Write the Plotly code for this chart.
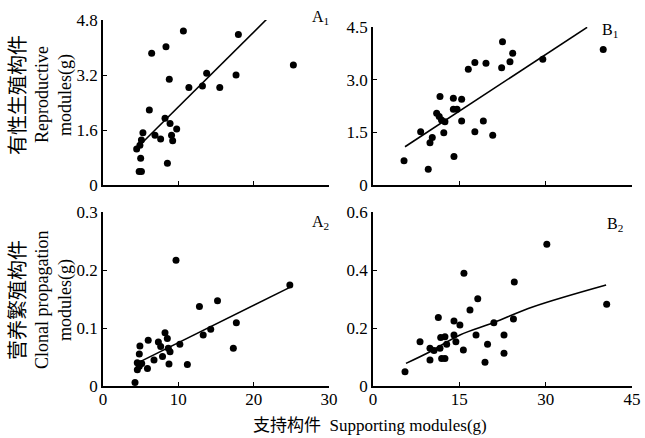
import plotly.graph_objects as go

# ---------------- data ----------------
A1_x = [4.47, 4.9, 5.1, 5.3, 5.0, 4.8, 5.1, 6.15, 6.46, 6.9, 7.65, 8.23, 8.36, 8.8, 8.9, 9.1, 9.25, 8.55, 9.78, 10.67, 11.4, 13.2, 13.76, 15.5, 17.66, 17.97, 25.27]
A1_y = [1.05, 1.16, 1.31, 1.52, 0.78, 0.39, 0.39, 2.18, 3.83, 1.45, 1.34, 1.94, 4.02, 3.08, 1.79, 1.45, 1.29, 0.63, 1.63, 4.48, 2.84, 2.88, 3.25, 2.84, 3.2, 4.38, 3.49]
A1_fit_x = [4.47, 22.08]
A1_fit_y = [1.07, 4.9]

B1_x = [5.39, 9.6, 8.28, 9.9, 10.3, 11.64, 11.06, 11.5, 11.9, 12.5, 12.3, 13.96, 15.4, 13.96, 14.6, 15.4, 14.07, 16.56, 17.7, 19.63, 17.7, 19.17, 20.8, 22.35, 22.5, 23.8, 24.27, 29.5, 40.0]
B1_y = [0.69, 0.45, 1.52, 1.2, 1.35, 2.52, 2.04, 1.95, 1.85, 1.8, 1.49, 2.47, 2.44, 2.16, 2.16, 1.82, 0.81, 3.3, 3.49, 3.47, 1.52, 1.82, 1.42, 3.34, 4.08, 3.51, 3.75, 3.58, 3.86]
B1_fit_x = [5.56, 37.2]
B1_fit_y = [1.09, 4.49]

A2_x = [4.25, 4.56, 4.82, 4.55, 5.14, 4.82, 4.9, 5.9, 6.0, 6.77, 7.35, 7.66, 7.9, 8.23, 8.54, 8.67, 8.9, 8.76, 9.69, 10.2, 11.2, 12.8, 13.3, 14.3, 15.2, 17.3, 17.7, 24.8]
A2_y = [0.006, 0.028, 0.034, 0.040, 0.039, 0.055, 0.069, 0.030, 0.079, 0.045, 0.076, 0.068, 0.051, 0.092, 0.082, 0.065, 0.059, 0.038, 0.217, 0.072, 0.037, 0.137, 0.088, 0.098, 0.147, 0.065, 0.109, 0.174]
A2_fit_x = [4.47, 24.8]
A2_fit_y = [0.039, 0.170]

B2_x = [5.56, 8.17, 9.9, 9.9, 10.6, 11.35, 11.64, 11.76, 12.5, 11.93, 12.5, 12.8, 14.07, 15.1, 14.07, 14.4, 15.7, 15.8, 16.85, 17.9, 18.2, 19.46, 19.9, 21.0, 22.76, 22.76, 24.4, 24.55, 30.2, 40.6]
B2_y = [0.049, 0.153, 0.130, 0.090, 0.122, 0.236, 0.130, 0.167, 0.170, 0.095, 0.095, 0.144, 0.224, 0.210, 0.176, 0.153, 0.124, 0.389, 0.262, 0.176, 0.301, 0.082, 0.144, 0.218, 0.176, 0.113, 0.231, 0.359, 0.489, 0.282]
B2_fit_x = [5.73, 9.9, 15.1, 20.9, 27.85, 40.5]
B2_fit_y = [0.078, 0.118, 0.176, 0.218, 0.273, 0.348]

A_xticks = [0, 10, 20, 30]
B_xticks = [0, 15, 30, 45]
A1_yticks = [0, 1.6, 3.2, 4.8]
B1_yticks = [0, 1.5, 3.0, 4.5]
A2_yticks = [0, 0.1, 0.2, 0.3]
B2_yticks = [0, 0.2, 0.4, 0.6]

SERIF = "Liberation Serif, Noto Sans CJK SC"

fig = go.Figure()

panels = [
    (A1_x, A1_y, A1_fit_x, A1_fit_y, "x", "y"),
    (B1_x, B1_y, B1_fit_x, B1_fit_y, "x2", "y2"),
    (A2_x, A2_y, A2_fit_x, A2_fit_y, "x3", "y3"),
    (B2_x, B2_y, B2_fit_x, B2_fit_y, "x4", "y4"),
]
for px, py, fx, fy, xa, ya in panels:
    fig.add_trace(go.Scatter(x=px, y=py, mode="markers", xaxis=xa, yaxis=ya,
                             marker=dict(color="black", size=7), cliponaxis=False,
                             showlegend=False, hoverinfo="skip"))
    fig.add_trace(go.Scatter(x=fx, y=fy, mode="lines", xaxis=xa, yaxis=ya,
                             line=dict(color="black", width=1.6, shape="spline"),
                             showlegend=False, hoverinfo="skip"))

W, H = 645, 438
def xd(a, b):
    return [a / W, b / W]
def yd(top, bottom):
    return [1 - bottom / H, 1 - top / H]

common = dict(showline=True, linecolor="black", linewidth=1.6, ticks="inside",
              ticklen=4, tickwidth=1.2, tickcolor="black", showgrid=False,
              zeroline=False, mirror=False, automargin=False,
              tickfont=dict(family=SERIF, size=17, color="black"))

fig.update_layout(
    width=W, height=H, autosize=False,
    margin=dict(l=0, r=0, t=0, b=0, pad=0, autoexpand=False),
    showlegend=False,
    paper_bgcolor="white", plot_bgcolor="white",
    xaxis=dict(domain=xd(103, 329), range=[0, 30], tickvals=A_xticks,
               showticklabels=False, anchor="y", **common),
    yaxis=dict(domain=yd(20, 185), range=[0, 4.8], tickvals=A1_yticks,
               ticktext=["0", "1.6", "3.2", "4.8"], anchor="x", **common),
    xaxis2=dict(domain=xd(373, 632), range=[0, 45], tickvals=B_xticks,
                showticklabels=False, anchor="y2", **common),
    yaxis2=dict(domain=yd(27, 185), range=[0, 4.5], tickvals=B1_yticks,
                ticktext=["0", "1.5", "3.0", "4.5"], anchor="x2", **common),
    xaxis3=dict(domain=xd(103, 329), range=[0, 30], tickvals=A_xticks,
                anchor="y3", ticklabelstandoff=-3, **common),
    yaxis3=dict(domain=yd(212, 386), range=[0, 0.3], tickvals=A2_yticks,
                ticktext=["0", "0.1", "0.2", "0.3"], anchor="x3", **common),
    xaxis4=dict(domain=xd(373, 632), range=[0, 45], tickvals=B_xticks,
                anchor="y4", ticklabelstandoff=-3, **common),
    yaxis4=dict(domain=yd(212, 386), range=[0, 0.6], tickvals=B2_yticks,
                ticktext=["0", "0.2", "0.4", "0.6"], anchor="x4", **common),
)

def ann(text, x, y, size, angle=0, xanchor="center", yanchor="middle"):
    fig.add_annotation(text=text, x=x / W, y=1 - y / H, xref="paper", yref="paper",
                       showarrow=False, textangle=angle, xanchor=xanchor, yanchor=yanchor,
                       font=dict(family=SERIF, size=size, color="black"))

# y titles
ann("有性生殖构件", 18, 95, 20, -90)
ann("Reproductive", 42, 95, 18, -90)
ann("modules(g)", 65, 95, 18, -90)
ann("营养繁殖构件", 18, 300, 20, -90)
ann("Clonal propagation", 42, 300, 18, -90)
ann("modules(g)", 65, 300, 18, -90)

# x title
ann("支持构件  Supporting modules(g)", 370, 425, 17)

# panel labels
ann("A<sub>1</sub>", 320, 18, 16)
ann("B<sub>1</sub>", 610, 30, 16)
ann("A<sub>2</sub>", 320, 222, 16)
ann("B<sub>2</sub>", 615, 224, 16)

fig.write_html("out.html")
